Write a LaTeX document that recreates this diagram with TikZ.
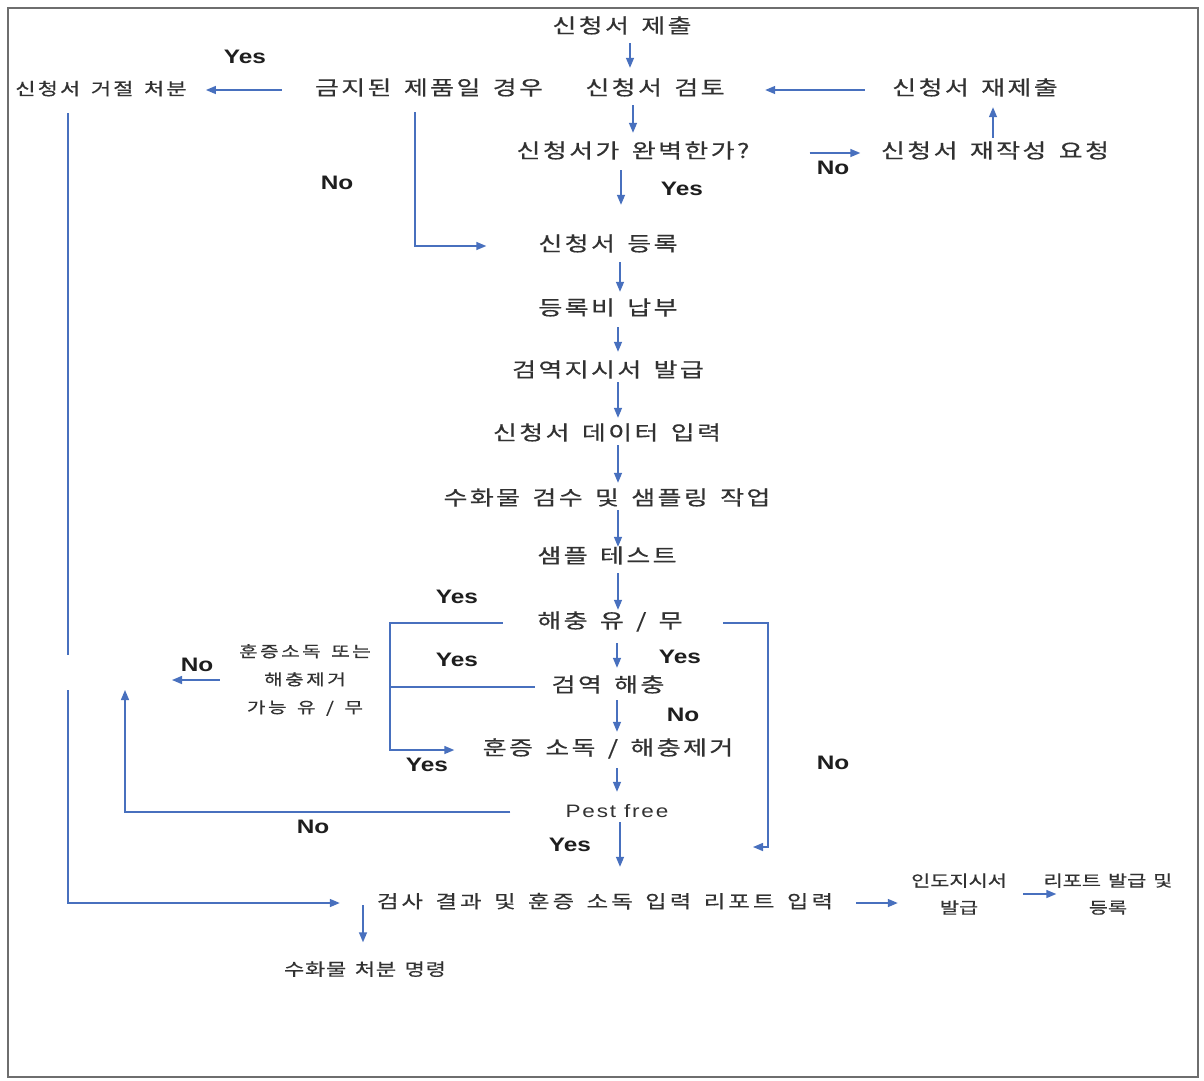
\documentclass[tikz,border=0pt]{standalone}
\usepackage{fontspec}
\usetikzlibrary{arrows.meta}
\newfontfamily\krf{Noto Sans CJK KR}[FakeStretch=1.3,WordSpace=1.5,FakeBold=0.5]
\newfontfamily\latf{Liberation Sans}[FakeStretch=1.25]
\definecolor{ac}{RGB}{72,112,190}
\definecolor{txt}{RGB}{50,50,50}
\definecolor{lbc}{RGB}{30,30,30}
\definecolor{bordc}{RGB}{110,110,110}
\newcommand\fA{\fontsize{20}{24}\krf\addfontfeature{LetterSpace=12}}
\newcommand\fR{\fontsize{17}{22}\krf\addfontfeature{LetterSpace=12}}
\newcommand\fB{\fontsize{18}{22}\krf\addfontfeature{LetterSpace=17}}
\newcommand\fC{\fontsize{17}{20}\krf\addfontfeature{LetterSpace=4}}
\newcommand\fD{\fontsize{16}{27}\krf}
\newcommand\fE{\fontsize{15.5}{28}\krf\addfontfeature{LetterSpace=16}}
\newcommand\fP{\fontsize{18}{20}\latf\addfontfeature{LetterSpace=10}}
\newcommand\fL{\fontsize{19.5}{22}\latf\bfseries}
\tikzset{
  kt/.style={inner sep=0pt, text=txt, text height=14pt, text depth=4pt, font=\fA},
  kr/.style={kt, font=\fR},
  kb/.style={inner sep=0pt, text=txt, text height=13pt, text depth=3pt, font=\fB},
  kc/.style={inner sep=0pt, text=txt, text height=12pt, text depth=3pt, font=\fC},
  kd/.style={inner sep=0pt, text=txt, align=center, font=\fD},
  ke/.style={inner sep=0pt, text=txt, align=center, font=\fE},
  kp/.style={kt, font=\fP},
  lb/.style={inner sep=0pt, text=lbc, font=\fL},
  ln/.style={draw=ac, line width=1.4pt},
  arr/.style={ln, -{Triangle[length=10pt,width=8pt]}},
}
\begin{document}
\begin{tikzpicture}[x=1pt,y=-1pt]
\useasboundingbox (0,0) rectangle (1204,1080);
\fill[white] (0,0) rectangle (1204,1080);
\draw[bordc, line width=2pt] (8,8) rectangle (1198,1077);

% column coordinates
\coordinate (c630) at (630,0);
\coordinate (c633) at (633,0);
\coordinate (c621) at (621,0);
\coordinate (c620) at (620,0);
\coordinate (c618) at (618,0);
\coordinate (c617) at (617,0);
\coordinate (c415) at (415,0);
\coordinate (c993) at (993,0);
\coordinate (brk) at (390,690);
\coordinate (nl) at (172,680);
\coordinate (up) at (125,690);
\coordinate (rc) at (768,847);
\coordinate (nt) at (753,847);
\coordinate (g1) at (68,655);
\coordinate (g2) at (68,690);
\coordinate (d0) at (363,905);

% nodes
\node[kt, minimum width=143pt] (sub) at (622,28) {신청서 제출};
\node[kt, minimum width=140pt] (rev) at (655,90) {신청서 검토};
\node[kt, minimum width=222pt] (ban) at (429,90) {금지된 제품일 경우};
\node[kr, minimum width=170pt] (rej) at (101,90) {신청서 거절 처분};
\node[kt, minimum width=170pt] (rsb) at (975,90) {신청서 재제출};
\node[kt, minimum width=239pt] (chk) at (633,153) {신청서가 완벽한가?};
\node[kt, minimum width=245pt] (rwr) at (995,153) {신청서 재작성 요청};
\node[kt, minimum width=143pt] (reg) at (608,246) {신청서 등록};
\node[kt, minimum width=141pt] (fee) at (608,310) {등록비 납부};
\node[kt, minimum width=195pt] (ord) at (608,372) {검역지시서 발급};
\node[kt, minimum width=233pt] (dat) at (607,435) {신청서 데이터 입력};
\node[kt, minimum width=343pt] (ins) at (607,500) {수화물 검수 및 샘플링 작업};
\node[kt, minimum width=140pt] (smp) at (607,558) {샘플 테스트};
\node[kt, minimum width=166pt] (pst) at (610,623) {해충 유 / 무};
\node[kt, minimum width=140pt] (qp) at (608,687) {검역 해충};
\node[kt, minimum width=263pt] (fum) at (608,750) {훈증 소독 / 해충제거};
\node[kp, minimum width=107pt] (pf) at (617,812) {Pest free};
\node[kb, minimum width=460pt] (res) at (605,903) {검사 결과 및 훈증 소독 입력 리포트 입력};
\node[kc, minimum width=170pt] (dsp) at (365,971) {수화물 처분 명령};
\node[kd, minimum width=102pt] (ind) at (959,894) {인도지시서\\발급};
\node[kd, minimum width=135pt] (rpt) at (1108,894) {리포트 발급 및\\등록};
\node[ke, minimum width=134pt] (box) at (305,680) {훈증소독 또는\\해충제거\\가능 유 / 무};

% labels
\node[lb] (l1) at (245,57) {Yes};
\node[lb] (l2) at (337,183) {No};
\node[lb] (l3) at (682,189) {Yes};
\node[lb] (l4) at (833,168) {No};
\node[lb] (l5) at (457,597) {Yes};
\node[lb] (l6) at (457,660) {Yes};
\node[lb] (l7) at (680,657) {Yes};
\node[lb] (l8) at (683,715) {No};
\node[lb] (l9) at (427,765) {Yes};
\node[lb] (l10) at (833,763) {No};
\node[lb] (l11) at (197,665) {No};
\node[lb] (l12) at (313,827) {No};
\node[lb] (l13) at (570,845) {Yes};

% connectors
\draw[arr, shorten <=6pt, shorten >=13pt] (sub.south -| c630) -- (rev.north -| c630);
\draw[arr, shorten <=6pt, shorten >=11pt] (rev.south -| c633) -- (chk.north -| c633);
\draw[arr, shorten <=8pt, shorten >=32pt] (chk.south -| c621) -- (reg.north -| c621);
\draw[arr, shorten <=13pt, shorten >=50pt] (ban.south -| c415) |- (reg.west);
\draw[arr, shorten <=25pt, shorten >=40pt] (rsb.west) -- (rev.east);
\draw[arr, shorten <=57pt, shorten >=12pt] (chk.east) -- (rwr.west);
\draw[arr, shorten <=6pt, shorten >=8pt] (rwr.north -| c993) -- (rsb.south -| c993);
\draw[arr, shorten <=33pt, shorten >=19pt] (ban.west) -- (rej.east);
\draw[arr, shorten <=7pt, shorten >=9pt] (reg.south -| c620) -- (fee.north -| c620);
\draw[arr, shorten <=8pt, shorten >=11pt] (fee.south -| c618) -- (ord.north -| c618);
\draw[arr, shorten <=1pt, shorten >=8pt] (ord.south -| c618) -- (dat.north -| c618);
\draw[arr, shorten <=1pt, shorten >=8pt] (dat.south -| c618) -- (ins.north -| c618);
\draw[arr, shorten <=1pt, shorten >=2pt] (ins.south -| c618) -- (smp.north -| c618);
\draw[arr, shorten <=6pt, shorten >=4pt] (smp.south -| c618) -- (pst.north -| c618);
\draw[arr, shorten <=11pt, shorten >=10pt] (pst.south -| c617) -- (qp.north -| c617);
\draw[arr, shorten <=4pt, shorten >=9pt] (qp.south -| c617) -- (fum.north -| c617);
\draw[arr, shorten <=9pt, shorten >=11pt] (fum.south -| c617) -- (pf.north -| c617);
\draw[arr, shorten <=1pt, shorten >=28pt] (pf.south -| c620) -- (res.north -| c620);
\draw[arr, shorten <=24pt, shorten >=22pt] (pst.west) -| (brk) |- (fum.west);
\draw[ln, shorten <=3pt] (qp.west) -- (qp.west -| brk);
\draw[arr, shorten <=18pt] (box.west) -- (nl);
\draw[arr, shorten <=53pt] (pf.west) -| (up);
\draw[arr, shorten <=30pt] (pst.east) -| (rc) -- (nt);
\draw[ln, shorten <=14pt] (rej.south -| g1) -- (g1);
\draw[arr, shorten >=35pt] (g2) |- (res.west);
\draw[arr, shorten >=21pt] (d0) -- (dsp.north -| d0);
\draw[arr, shorten <=21pt, shorten >=10pt] (res.east) -- (res.east -| ind.west);
\draw[arr, shorten <=13pt, shorten >=-16pt] (ind.east) -- (ind.east -| rpt.west);
\end{tikzpicture}
\end{document}
